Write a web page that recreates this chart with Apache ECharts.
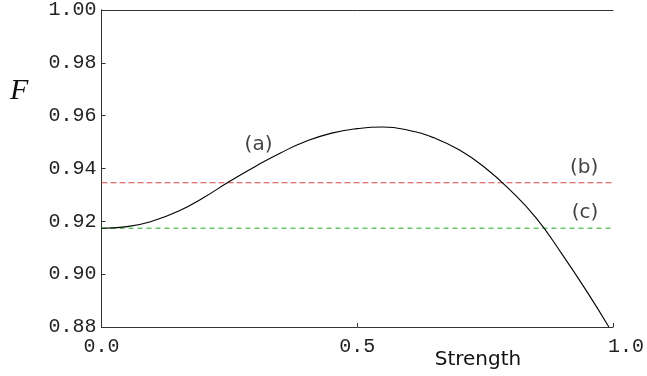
<!DOCTYPE html>
<html>
<head>
<meta charset="utf-8">
<script src="https://cdn.jsdelivr.net/npm/echarts@6/dist/echarts.min.js"></script>
<style>html,body{margin:0;padding:0;background:#fff}#c{width:647px;height:376px}</style>
</head>
<body>
<div id="c"></div>
<script>
// Curve (a): fidelity vs strength
const strengthX = [0, 0.05, 0.10, 0.15, 0.20, 0.25, 0.30, 0.35, 0.40, 0.45, 0.50, 0.55, 0.60, 0.65, 0.70, 0.75, 0.80, 0.85, 0.90, 0.95, 0.992];
const fidelityA = [0.9174, 0.9180, 0.9201, 0.9238, 0.9290, 0.9351, 0.9407, 0.9459, 0.9503, 0.9534, 0.9551, 0.9557, 0.9545, 0.9516, 0.9470, 0.9403, 0.9316, 0.9212, 0.9077, 0.8931, 0.8800];
// Constant levels (b) and (c)
const levelB = 0.9346;
const levelC = 0.9174;
const lineRangeX = [0, 1];
// Annotation labels
const annotationText = ['(a)', '(b)', '(c)'];
const annotationX = [0.307, 0.9435, 0.9455];
const annotationY = [0.9490, 0.9403, 0.9232];
// Ticks
const xTicks = [0, 0.5, 1];
const yMin = 0.88, yMax = 1.00, yStep = 0.02;

const chart = echarts.init(document.getElementById('c'), null, {renderer: 'canvas'});
const axisColor = '#333';
const monoFont = 'Liberation Mono';

chart.setOption({
  animation: false,
  backgroundColor: '#fff',
  grid: {left: 101.5, right: 32, top: 10, bottom: 49},
  xAxis: [{
    type: 'value', min: xTicks[0], max: xTicks[xTicks.length - 1], interval: 0.5,
    axisLine: {lineStyle: {color: axisColor, width: 1}},
    axisTick: {inside: true, length: 4, lineStyle: {color: axisColor}},
    splitLine: {show: false},
    axisLabel: {
      margin: 10, color: '#222', fontFamily: monoFont, fontSize: 20,
      formatter: v => v === 1 ? '{r|' + v.toFixed(1) + '}' : v.toFixed(1),
      rich: {r: {padding: [0, 0, 0, 26], fontFamily: monoFont, fontSize: 20, color: '#222'}}
    }
  }, {
    type: 'value', position: 'top', min: 0, max: 1,
    axisLine: {show: true, lineStyle: {color: axisColor, width: 1}},
    axisTick: {show: false}, axisLabel: {show: false}, splitLine: {show: false}
  }],
  yAxis: [{
    type: 'value', min: yMin, max: yMax, interval: yStep,
    axisLine: {show: true, lineStyle: {color: axisColor, width: 1}},
    axisTick: {show: true, inside: true, length: 4, lineStyle: {color: axisColor}},
    splitLine: {show: false},
    axisLabel: {margin: 5, color: '#222', fontFamily: monoFont, fontSize: 20, formatter: v => v.toFixed(2)}
  }, {
    type: 'value', position: 'right', min: yMin, max: yMax,
    axisLine: {show: true, lineStyle: {color: axisColor, width: 1}},
    axisTick: {show: false}, axisLabel: {show: false}, splitLine: {show: false}
  }],
  series: [{
    type: 'line', name: 'b', showSymbol: false, symbol: 'none',
    data: lineRangeX.map(x => [x, levelB]),
    lineStyle: {color: '#d24848', width: 1, type: [6, 3]}
  }, {
    type: 'line', name: 'c', showSymbol: false, symbol: 'none',
    data: lineRangeX.map(x => [x, levelC]),
    lineStyle: {color: '#1faa1f', width: 1, type: [5, 4]}
  }, {
    type: 'line', name: 'a', showSymbol: false, symbol: 'none', smooth: 0.5,
    data: strengthX.map((x, i) => [x, fidelityA[i]]),
    lineStyle: {color: '#000', width: 1.1}
  }, {
    type: 'scatter', symbolSize: 0, silent: true,
    data: annotationText.map((t, i) => ({value: [annotationX[i], annotationY[i]], name: t})),
    label: {show: true, position: 'inside', formatter: p => p.name,
      fontFamily: 'DejaVu Sans', fontSize: 20, color: '#111'}
  }],
  graphic: [{
    type: 'text', left: 10, top: 76,
    style: {text: 'F', font: 'italic 30px "Liberation Serif"', fill: '#111'}
  }, {
    type: 'text', x: 478, y: 360,
    style: {text: 'Strength', font: '20px "DejaVu Sans"', fill: '#111', align: 'center', verticalAlign: 'middle'}
  }]
});
</script>
</body>
</html>
